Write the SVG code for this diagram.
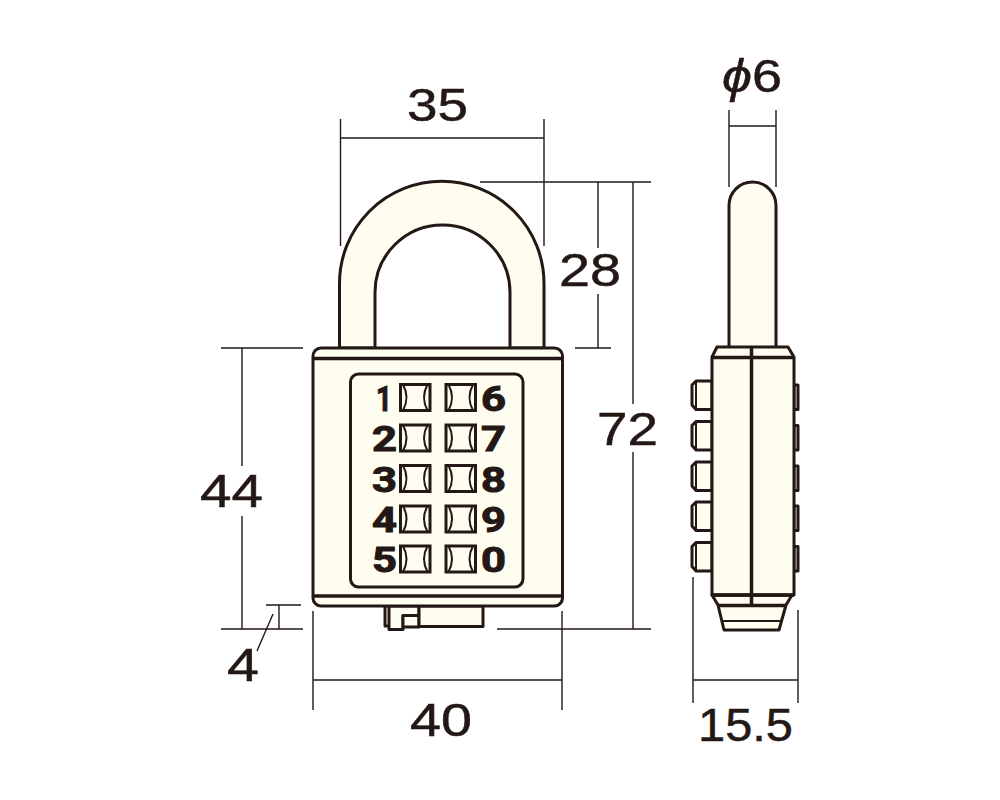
<svg xmlns="http://www.w3.org/2000/svg" xmlns:xlink="http://www.w3.org/1999/xlink" width="1000" height="800" viewBox="0 0 1000 800">
<style>
.o{fill:#fffdef;stroke:#231815;stroke-width:3;stroke-linejoin:round}
.t{fill:none;stroke:#231815;stroke-width:3.5}
.i{fill:none;stroke:#231815;stroke-width:2}
.d{fill:none;stroke:#231815;stroke-width:1.4}
.l{font-family:"Liberation Sans",Arial,sans-serif;font-size:46px;fill:#231815;stroke:#231815;stroke-width:.5;text-anchor:start}
.n{font-family:Roboto,"Liberation Sans",sans-serif;font-weight:700;font-size:35px;fill:#231815;stroke:#231815;stroke-width:1}
</style>
<defs>
<g id="key"><rect x="0" y="0" width="29.500" height="26" fill="#fffdef" stroke="#231815" stroke-width="3"/><path class="i" d="M2.500 0Q9.500 13 2.500 26M27 0Q20 13 27 26"/></g>
<path id="btnL" class="o" d="M712 0H696L692 4V24L696 28.500H712Z"/>
<path id="btnR" class="o" d="M794 4H798V28.500H794Z"/>
</defs>
<rect width="1000" height="800" fill="#fff"/>
<g id="connectors">
<path class="d" d="M340.500 119V246M544 119V246M340.500 138H544"/>
<path class="d" d="M480 182H651M598 182V248M598 294V348M575 348H611"/>
<path class="d" d="M633 182V404M633 452V629M497 629H651"/>
<path class="d" d="M221 348H303M242 348V466M242 516V629M221 629H303"/>
<path class="d" d="M266 605H301M279 605V629M273 614L257 651"/>
<path class="d" d="M313 611V710M562 611V710M313 680H562"/>
<path class="d" d="M693 577V703M798 610V703M693 680H798"/>
<path class="d" d="M729 110V187M776 110V187M729 126H776"/>
</g>
<g id="padlock-front">
<path class="o" d="M339.500 348V283.500A102.250 102.250 0 0 1 544 283.500V348H510V292.500A67.500 67.500 0 0 0 375 292.500V348Z"/>
<path class="o" d="M385 606V626H389V606ZM389 606V629.500H403V615.500H419V606Z"/>
<path class="o" d="M403 627H419V615.500H403Z"/>
<rect class="o" x="419" y="606" width="64" height="20.500"/>
<rect class="o" x="313" y="348" width="249.500" height="258" rx="8"/>
<path class="t" d="M313 358.500H562.500M313 596H562.500"/>
<rect class="o" x="350.500" y="374" width="172.500" height="213" rx="8"/>
</g>
<g id="keys">
<use xlink:href="#key" href="#key" x="400.500" y="384.500"/><use xlink:href="#key" href="#key" x="446" y="384.500"/>
<use xlink:href="#key" href="#key" x="400.500" y="425"/><use xlink:href="#key" href="#key" x="446" y="425"/>
<use xlink:href="#key" href="#key" x="400.500" y="465.500"/><use xlink:href="#key" href="#key" x="446" y="465.500"/>
<use xlink:href="#key" href="#key" x="400.500" y="506"/><use xlink:href="#key" href="#key" x="446" y="506"/>
<use xlink:href="#key" href="#key" x="400.500" y="546"/><use xlink:href="#key" href="#key" x="446" y="546"/>
<text class="n" x="376" y="410.500" textLength="16" lengthAdjust="spacingAndGlyphs">1</text>
<text class="n" x="372" y="451" textLength="25" lengthAdjust="spacingAndGlyphs">2</text>
<text class="n" x="372" y="491.500" textLength="25" lengthAdjust="spacingAndGlyphs">3</text>
<text class="n" x="372" y="532" textLength="25" lengthAdjust="spacingAndGlyphs">4</text>
<text class="n" x="372" y="572" textLength="25" lengthAdjust="spacingAndGlyphs">5</text>
<text class="n" x="481" y="410.500" textLength="25" lengthAdjust="spacingAndGlyphs">6</text>
<text class="n" x="481" y="451" textLength="25" lengthAdjust="spacingAndGlyphs">7</text>
<text class="n" x="481" y="491.500" textLength="25" lengthAdjust="spacingAndGlyphs">8</text>
<text class="n" x="481" y="532" textLength="25" lengthAdjust="spacingAndGlyphs">9</text>
<text class="n" x="481" y="572" textLength="25" lengthAdjust="spacingAndGlyphs">0</text>
</g>
<g id="padlock-side">
<path class="o" d="M729 348V205.500A23.500 23.500 0 0 1 776 205.500V348Z"/>
<use xlink:href="#btnL" href="#btnL" y="381"/><use xlink:href="#btnL" href="#btnL" y="421.500"/><use xlink:href="#btnL" href="#btnL" y="462"/><use xlink:href="#btnL" href="#btnL" y="502"/><use xlink:href="#btnL" href="#btnL" y="542.500"/>
<use xlink:href="#btnR" href="#btnR" y="381"/><use xlink:href="#btnR" href="#btnR" y="421.500"/><use xlink:href="#btnR" href="#btnR" y="462"/><use xlink:href="#btnR" href="#btnR" y="502"/><use xlink:href="#btnR" href="#btnR" y="542.500"/>
<path class="i" d="M696 381V409.500M696 421.500V450M696 462V490.500M696 502V530.500M696 542.500V571"/>
<path class="o" d="M712 595L718 605L724 630H779L786 605L792 595Z"/>
<path class="o" d="M712 357L717 347H788L794 357V595H712Z"/>
<path class="t" d="M712 357.500H794M712 595H794M718 605.500H786"/>
<path class="i" d="M721.500 621H781"/>
<path class="t" d="M751.500 347V605" stroke-width="2.500"/>
</g>
<g id="labels">
<text class="l" x="407" y="121" textLength="61" lengthAdjust="spacingAndGlyphs">35</text>
<text class="l" x="559" y="286" textLength="62" lengthAdjust="spacingAndGlyphs">28</text>
<text class="l" x="597" y="445" textLength="61" lengthAdjust="spacingAndGlyphs">72</text>
<text class="l" x="200" y="507" textLength="63" lengthAdjust="spacingAndGlyphs">44</text>
<text class="l" x="227" y="681" textLength="32" lengthAdjust="spacingAndGlyphs">4</text>
<text class="l" x="410" y="736" textLength="62" lengthAdjust="spacingAndGlyphs">40</text>
<text class="l" x="698" y="741" textLength="95" lengthAdjust="spacingAndGlyphs">15.5</text>
<text class="l" x="722" y="92" textLength="60" lengthAdjust="spacingAndGlyphs"><tspan font-style="italic">ϕ</tspan>6</text>
</g>
</svg>
